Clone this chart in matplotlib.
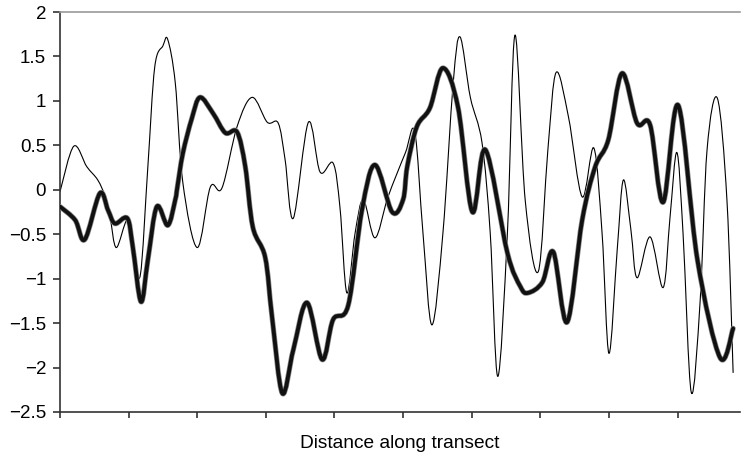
import matplotlib
matplotlib.use("Agg")
import matplotlib.pyplot as plt
import matplotlib.patheffects as pe
from matplotlib.path import Path
from matplotlib.patches import PathPatch

plt.rcParams['font.family'] = ['Liberation Sans', 'DejaVu Sans']

# Data (x in tick units along the transect)
thick_x = [0.00, 0.22, 0.36, 0.58, 0.70, 0.80, 0.98, 1.06, 1.18, 1.28, 1.41, 1.57,
           1.68, 1.71, 1.79, 1.92, 2.04, 2.23, 2.41, 2.58, 2.70, 2.81, 2.99, 3.09,
           3.24, 3.40, 3.60, 3.82, 3.98, 4.20, 4.40, 4.59, 4.84, 5.00, 5.06,
           5.20, 5.39, 5.58, 5.80, 6.01, 6.20, 6.52, 6.71, 6.82, 7.03, 7.19, 7.39,
           7.61, 7.80, 7.99, 8.19, 8.41, 8.60, 8.79, 9.01, 9.29, 9.62, 9.81]
thick_y = [-0.19, -0.34, -0.56, -0.04, -0.23, -0.38, -0.32, -0.64, -1.26, -0.79, -0.19, -0.40,
           -0.11, 0.03, 0.41, 0.80, 1.04, 0.86, 0.64, 0.65, 0.26, -0.42, -0.76, -1.43,
           -2.29, -1.80, -1.27, -1.91, -1.46, -1.30, -0.23, 0.28, -0.25, -0.11, 0.26,
           0.71, 0.92, 1.37, 0.93, -0.25, 0.45, -0.71, -1.09, -1.16, -1.04, -0.70, -1.49,
           -0.34, 0.26, 0.56, 1.31, 0.75, 0.73, -0.14, 0.95, -0.79, -1.89, -1.56]

thin_x = [0.00, 0.20, 0.39, 0.55, 0.66, 0.73, 0.82, 0.98, 1.06, 1.17, 1.28, 1.38,
          1.50, 1.57, 1.68, 1.79, 2.00, 2.19, 2.36, 2.58, 2.80, 3.02, 3.18, 3.28,
          3.40, 3.62, 3.79, 3.98, 4.08, 4.18, 4.30, 4.42, 4.59, 4.78, 5.03, 5.17,
          5.29, 5.42, 5.58, 5.73, 5.83, 5.98, 6.15, 6.27, 6.38, 6.52, 6.63,
          6.78, 6.97, 7.11, 7.23, 7.41, 7.61, 7.78, 7.90, 8.00, 8.12, 8.21, 8.32,
          8.41, 8.60, 8.79, 8.89, 8.99, 9.08, 9.20, 9.33, 9.43, 9.58, 9.72, 9.81]
thin_y = [-0.02, 0.49, 0.26, 0.11, -0.08, -0.31, -0.65, -0.34, -0.68, -0.96, 0.26, 1.38,
          1.62, 1.69, 1.20, 0.08, -0.65, 0.03, 0.02, 0.71, 1.04, 0.76, 0.75, 0.34,
          -0.32, 0.76, 0.20, 0.30, -0.20, -1.16, -0.49, -0.11, -0.54, -0.08, 0.41, 0.65,
          -0.49, -1.52, -0.49, 1.20, 1.72, 1.04, 0.53, -0.49, -2.10, -0.49, 1.74,
          -0.12, -0.92, 0.45, 1.32, 0.82, -0.08, 0.47, -0.49, -1.84, -0.68, 0.11, -0.45,
          -0.99, -0.53, -1.10, -0.31, 0.42, -0.49, -2.28, -1.24, 0.45, 1.03, -0.12, -2.06]

y_ticks = [-2.5, -2, -1.5, -1, -0.5, 0, 0.5, 1, 1.5, 2]
y_ticklabels = ["\u22122.5", "\u22122", "\u22121.5", "\u22121", "\u22120.5",
                "0", "0.5", "1", "1.5", "2"]
x_ticks = list(range(10))


def smoothed(xs, ys):
    # spreadsheet-style "smoothed line": bezier segments through every point
    verts = [(xs[0], ys[0])]
    codes = [Path.MOVETO]
    n = len(xs)
    for i in range(n - 1):
        x0, y0 = xs[max(i - 1, 0)], ys[max(i - 1, 0)]
        x1, y1 = xs[i], ys[i]
        x2, y2 = xs[i + 1], ys[i + 1]
        x3, y3 = xs[min(i + 2, n - 1)], ys[min(i + 2, n - 1)]
        c1 = (x1 + (x2 - x0) / 6, y1 + (y2 - y0) / 6)
        c2 = (x2 - (x3 - x1) / 6, y2 - (y3 - y1) / 6)
        verts += [c1, c2, (x2, y2)]
        codes += [Path.CURVE4] * 3
    return Path(verts, codes)


fig = plt.figure(figsize=(7.42, 4.57), dpi=100)
ax = fig.add_axes([0.0809, 0.0985, 0.9164, 0.8752])

ax.add_patch(PathPatch(smoothed(thin_x, thin_y), fill=False,
                       edgecolor="black", lw=0.8, zorder=2))
ax.add_patch(PathPatch(smoothed(thick_x, thick_y), fill=False,
                       edgecolor="#111111", lw=2.8, zorder=3,
                       joinstyle="round", capstyle="round",
                       path_effects=[pe.withStroke(linewidth=3.8, foreground="#8a8a8a")]))

ax.set_xlim(0, 9.91)
ax.set_ylim(-2.5, 2)
ax.set_yticks(y_ticks)
ax.set_yticklabels(y_ticklabels, fontsize=13.5)
ax.set_xticks(x_ticks)
ax.set_xticklabels([])

ax.spines["right"].set_visible(False)
ax.spines["top"].set_color("#9a9a9a")
ax.spines["top"].set_linewidth(1.2)
for s in ("left", "bottom"):
    ax.spines[s].set_color("#333333")
    ax.spines[s].set_linewidth(1.2)

ax.tick_params(axis="y", direction="out", length=5, width=1.2, color="#333333", pad=5)
ax.tick_params(axis="x", direction="out", length=4, width=1.2, color="#333333")

ax.set_xlabel("Distance along transect", fontsize=13.8, labelpad=9)

fig.savefig("out.png", dpi=100)
